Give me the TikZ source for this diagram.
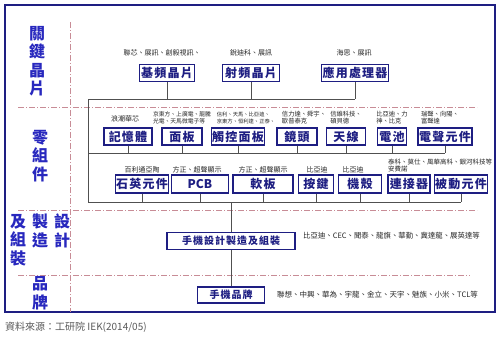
\documentclass[tikz,border=0pt]{standalone}
\usepackage{fontspec}
\newfontfamily\cjk{Noto Sans CJK TC}
\newfontfamily\cjkbox[LetterSpace=10]{Noto Sans CJK TC}
\definecolor{frame}{RGB}{30,30,130}
\definecolor{catblue}{RGB}{40,40,190}
\definecolor{sepline}{RGB}{200,140,150}
\definecolor{wire}{RGB}{80,80,80}
\usetikzlibrary{calc}

\tikzset{
  chip/.style={draw=frame, line width=1.3pt, text=frame, inner sep=1pt,
    font=\cjkbox\bfseries\fontsize{12}{12}\selectfont, minimum height=17pt},
  note/.style={font=\cjk\fontsize{7}{7.5}\selectfont, text=black!85, inner sep=0pt},
  tiny/.style={note, align=left, font=\cjk\fontsize{6.3}{7}\selectfont},
  cat/.style={font=\cjk\bfseries\fontsize{16}{18.5}\selectfont, text=catblue,
    align=center, inner sep=0pt},
  link/.style={draw=wire, line width=0.8pt},
  sep/.style={draw=sepline, line width=0.8pt, dash pattern=on 6pt off 2pt on 1pt off 2pt}
}

\begin{document}
\begin{tikzpicture}[x=1pt,y=-1pt]
  \useasboundingbox (0,0) rectangle (500,340);
  % frame and row separators
  \draw[frame, line width=1.8pt] (5,5) rectangle (495,312);
  \draw[sep] (70,22) -- (70,312);
  \draw[sep] (18,107) -- (477,107);
  \draw[sep] (18,210) -- (477,210);
  \draw[sep] (18,275) -- (470,275);

  % categories
  \node[cat] (catchip) at (37,61) {關\\鍵\\晶\\片};
  \node[cat] (catpart) at (40,156) {零\\組\\件};
  \node[cat, anchor=north] (catdes) at (62,214) {設\\計};
  \node[cat, anchor=north] (catmfg) at (40,214) {製\\造};
  \node[cat, anchor=north] (catasm) at (18,214) {及\\組\\裝};
  \node[cat] (catbrand) at (40,293) {品\\牌};

  % key chips
  \node[chip, minimum width=55pt] (bb) at (167,73) {基頻晶片};
  \node[chip, minimum width=57pt] (rf) at (251,73) {射頻晶片};
  \node[chip, minimum width=65pt] (ap) at (355,73) {應用處理器};
  \node[note] (bb-n) at (162,53) {聯芯、展訊、創毅視訊、};
  \node[note] (rf-n) at (251,53) {銳迪科、展訊};
  \node[note] (ap-n) at (354,53) {海思、展訊};

  % components, first row
  \node[chip, minimum width=48pt] (mem) at (128,136.5) {記憶體};
  \node[chip, minimum width=40pt] (pnl) at (182,136.5) {面板};
  \node[chip, minimum width=53pt] (tp) at (238,136.5) {觸控面板};
  \node[chip, minimum width=40pt] (lens) at (297,136.5) {鏡頭};
  \node[chip, minimum width=39pt] (ant) at (346,136.5) {天線};
  \node[chip, minimum width=29pt] (bat) at (392,136.5) {電池};
  \node[chip, minimum width=54pt] (aud) at (445,136.5) {電聲元件};
  \node[note] (mem-n) at (125,119) {浪潮華芯};
  \node[tiny, font=\cjk\fontsize{5.8}{7}\selectfont] (pnl-n) at (182,117.5) {京東方、上廣電、龍騰\\光電、天馬微電子等};
  \node[tiny, font=\cjk\fontsize{5.3}{7}\selectfont] (tp-n) at (246,117.5) {信利、天馬、比亞迪、\\京東方、恒利達、正泰、};
  \node[tiny] (lens-n) at (304,117.5) {信力達、舜宇、\\歐普泰克};
  \node[tiny] (ant-n) at (346,117.5) {信維科技、\\碩貝德};
  \node[tiny] (bat-n) at (392,117.5) {比亞迪、力\\神、比克};
  \node[tiny] (aud-n) at (440,117.5) {瑞聲、向陽、\\富聲達};

  % components, second row
  \node[chip, minimum width=50pt, minimum height=18pt] (xt) at (142,184) {石英元件};
  \node[chip, minimum width=57pt, minimum height=18pt, font=\cjk\bfseries\fontsize{12}{12}\selectfont] (pcb) at (200,184) {PCB};
  \node[chip, minimum width=60pt, minimum height=18pt] (fpc) at (263,184) {軟板};
  \node[chip, minimum width=35pt, minimum height=18pt] (key) at (316,184) {按鍵};
  \node[chip, minimum width=43pt, minimum height=18pt] (case) at (360,184) {機殼};
  \node[chip, minimum width=42pt, minimum height=18pt] (conn) at (409,184) {連接器};
  \node[chip, minimum width=52pt, minimum height=18pt] (pas) at (461,184) {被動元件};
  \node[note] (xt-n) at (142,170) {百利通亞陶};
  \node[note] (pcb-n) at (197,170) {方正、超聲顯示};
  \node[note] (fpc-n) at (263,170) {方正、超聲顯示};
  \node[note] (key-n) at (317,170) {比亞迪};
  \node[note] (case-n) at (353,170) {比亞迪};
  \node[tiny, anchor=north west, font=\cjk\fontsize{6.5}{7.5}\selectfont]
    (conn-n) at (388,158.5) {泰科、莫仕、風華高科、銀河科技等\\安費諾};

  % design / manufacturing and brands
  \node[chip, minimum width=128pt, font=\cjkbox\bfseries\fontsize{10}{10}\selectfont] (odm) at (231,241) {手機設計製造及組裝};
  \node[note, anchor=west, font=\cjk\fontsize{7.4}{8}\selectfont] (odm-n) at (303,236) {比亞迪、CEC、聞泰、龍旗、華勤、冀達龍、展英達等};
  \node[chip, minimum width=67pt, minimum height=16pt, font=\cjkbox\bfseries\fontsize{10}{10}\selectfont] (brand) at (231,295) {手機品牌};
  \node[note, anchor=west, font=\cjk\fontsize{7.5}{8}\selectfont] (brand-n) at (277,295) {聯想、中興、華為、宇龍、金立、天宇、魅族、小米、TCL等};

  % connectors
  \coordinate (busA) at (88,99);
  \coordinate (busB) at (88,153);
  \coordinate (busC) at (88,202);
  \foreach \n in {bb,rf,ap} \draw[link] (\n.south) -- (\n.south |- busA);
  \foreach \n in {mem,pnl,tp,lens,ant,bat,aud} \draw[link] (\n.south) -- (\n.south |- busB);
  \foreach \n in {xt,pcb,fpc,key,case,conn,pas} \draw[link] (\n.south) -- (\n.south |- busC);
  \draw[link] (busA) -- (ap.south |- busA);
  \draw[link] (busB) -- (aud.south |- busB);
  \draw[link] (busC) -- (pas.south |- busC);
  \draw[link] (busA) -- (busC);
  \draw[link] (odm.north |- busC) -- (odm.north);
  \draw[link] (odm.south) -- (brand.north);

  \node[font=\cjk\fontsize{10}{10}\selectfont, text=black!65, anchor=west, inner sep=0pt]
    (src) at (5,327) {資料來源：工研院 IEK(2014/05)};
\end{tikzpicture}
\end{document}
